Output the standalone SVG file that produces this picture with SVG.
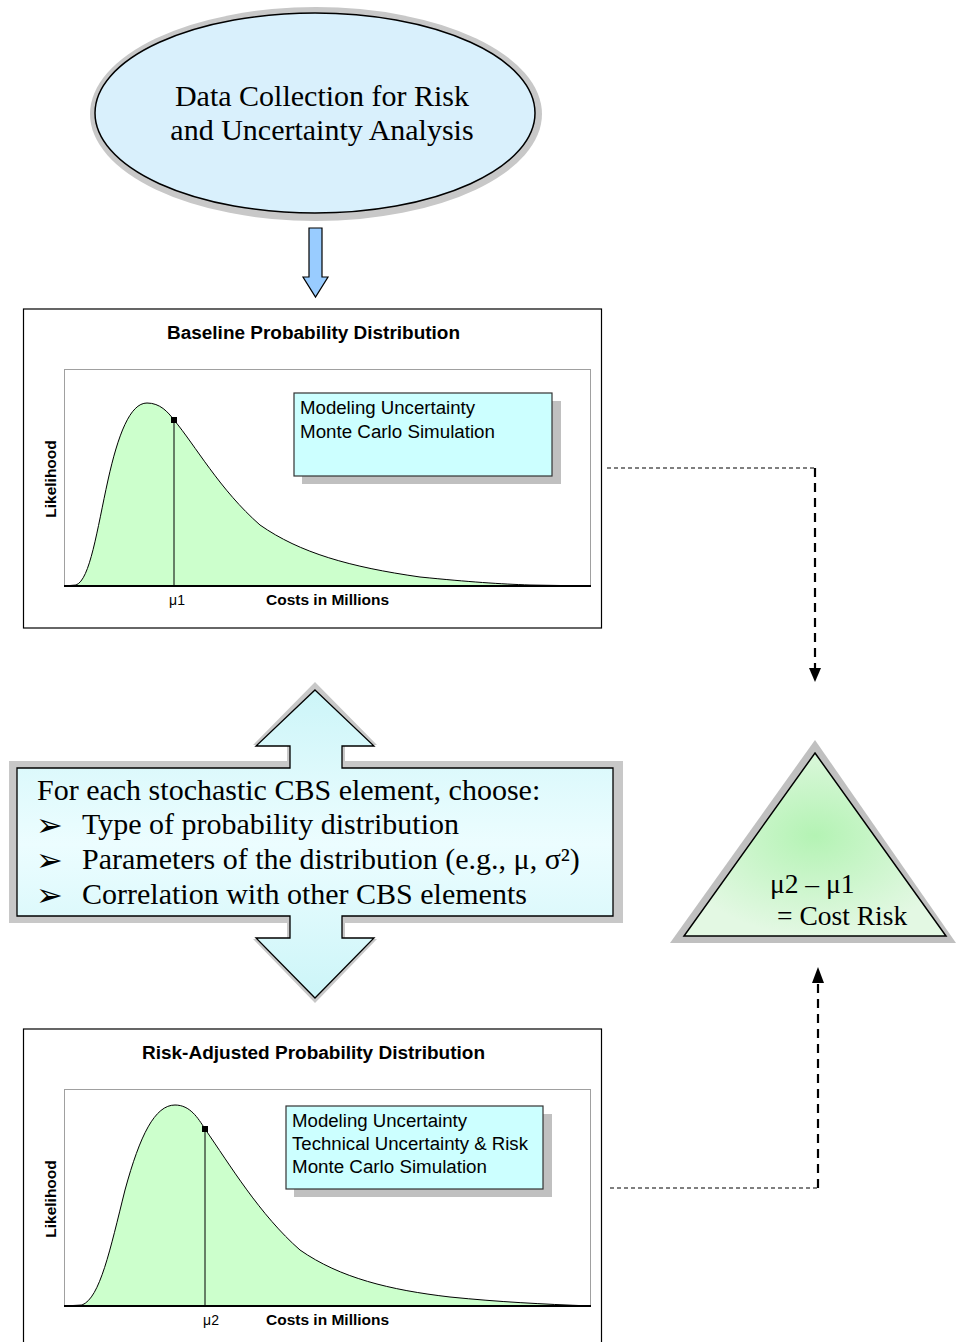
<svg xmlns="http://www.w3.org/2000/svg" width="956" height="1342" viewBox="0 0 956 1342">
<defs>
<style>
.serif{font-family:"Liberation Serif","Times New Roman",serif;fill:#000}
.sans{font-family:"Liberation Sans",Arial,sans-serif;fill:#000}
.title{font-size:18px;font-weight:bold}
.axis{font-size:15.5px;font-weight:bold}
.mu{font-size:14px}
.legend{font-size:18px}
.big{font-size:30px}
.bullet{font-family:"DejaVu Sans",sans-serif;font-size:32px;fill:#000}
.frame{fill:#fff;stroke:#000;stroke-width:1.2}
.plot{fill:#fff;stroke:#a0a0a0;stroke-width:1}
.curve{fill:#ccffcc;stroke:#000;stroke-width:1}
.legbox{fill:#ccffff;stroke:#333;stroke-width:1.2}
.shadow{fill:#c0c0c0}
.thin{fill:none;stroke:#555;stroke-width:1.3;stroke-dasharray:4 3}
.thick{fill:none;stroke:#000;stroke-width:2.2;stroke-dasharray:9 6}
</style>
<linearGradient id="cyanGrad" x1="0" y1="0" x2="0" y2="1">
<stop offset="0" stop-color="#ccf5f8"/>
<stop offset="0.5" stop-color="#ecfdff"/>
<stop offset="1" stop-color="#ccf5f8"/>
</linearGradient>
<radialGradient id="greenGrad" cx="0.5" cy="0.45" r="0.55">
<stop offset="0" stop-color="#b4f3b4"/>
<stop offset="1" stop-color="#e3f8e3"/>
</radialGradient>
</defs>

<g id="data-collection">
<ellipse cx="316" cy="114" rx="226" ry="107" fill="#c8c8c8"/>
<ellipse cx="315" cy="113" rx="220" ry="100" fill="#d9f0fc" stroke="#000" stroke-width="1.5"/>
<text class="serif big" x="322" y="106" text-anchor="middle">Data Collection for Risk</text>
<text class="serif big" x="322" y="140" text-anchor="middle">and Uncertainty Analysis</text>
</g>

<g id="down-arrow">
<path d="M309,228 L322,228 L322,277 L328,277 L315.5,297 L303,277 L309,277 Z" fill="#99ccff" stroke="#000" stroke-width="1.2"/>
</g>

<g id="baseline-chart">
<rect class="frame" x="23.5" y="309" width="578" height="319"/>
<text class="sans title" x="167" y="339" textLength="293" lengthAdjust="spacingAndGlyphs">Baseline Probability Distribution</text>
<rect class="plot" x="64.5" y="369.5" width="526" height="217"/>
<path class="curve" d="M64,586 L76,585 C90,580 97,530 108,480 C118,435 130,403 147,403 C160,403 168,412 174,420 C195,445 220,490 260,525 C300,553 350,567 420,577 C470,582 500,584 530,585 L591,586 Z"/>
<line x1="64" y1="586" x2="591" y2="586" stroke="#000" stroke-width="2"/>
<line x1="174" y1="420" x2="174" y2="586" stroke="#000" stroke-width="1"/>
<rect x="171" y="417" width="6" height="6" fill="#000"/>
<rect class="shadow" x="302" y="401" width="259" height="83"/>
<rect class="legbox" x="294" y="393" width="258" height="83"/>
<text class="sans legend" x="300" y="414" textLength="175" lengthAdjust="spacingAndGlyphs">Modeling Uncertainty</text>
<text class="sans legend" x="300" y="438" textLength="195" lengthAdjust="spacingAndGlyphs">Monte Carlo Simulation</text>
<text class="sans axis" transform="translate(56,479) rotate(-90)" text-anchor="middle">Likelihood</text>
<text class="sans mu" x="177" y="605" text-anchor="middle">μ1</text>
<text class="sans axis" x="266" y="605">Costs in Millions</text>
</g>

<g id="cbs-choices">
<path d="M315,682 L377,745 L345,745 L345,761 L623,761 L623,923 L345,923 L345,939 L377,939 L315,1003 L253,939 L287,939 L287,923 L9,923 L9,761 L287,761 L287,745 L253,745 Z" fill="#c8c8c8"/>
<path d="M315,690 L374,746 L342,746 L342,768 L613,768 L613,916 L342,916 L342,938 L374,938 L315,998 L256,938 L290,938 L290,916 L17,916 L17,768 L290,768 L290,746 L256,746 Z" fill="url(#cyanGrad)" stroke="#000" stroke-width="1.3"/>
<text class="serif big" x="37" y="800">For each stochastic CBS element, choose:</text>
<text class="bullet" x="36" y="836">➢</text>
<text class="serif big" x="82" y="834">Type of probability distribution</text>
<text class="bullet" x="36" y="871">➢</text>
<text class="serif big" x="82" y="869">Parameters of the distribution (e.g., μ, σ²)</text>
<text class="bullet" x="36" y="906">➢</text>
<text class="serif big" x="82" y="904">Correlation with other CBS elements</text>
</g>

<g id="cost-risk">
<path d="M815,740 L956,943 L670,943 Z" fill="#c0c0c0"/>
<path d="M815,753 L946,936 L684,936 Z" fill="url(#greenGrad)" stroke="#000" stroke-width="1.5"/>
<text class="serif" x="770" y="893" font-size="27.5">μ2 – μ1</text>
<text class="serif" x="777" y="925" font-size="27.5">= Cost Risk</text>
</g>

<g id="risk-adjusted-chart">
<rect class="frame" x="23.5" y="1029" width="578" height="330"/>
<text class="sans title" x="142" y="1059" textLength="343" lengthAdjust="spacingAndGlyphs">Risk-Adjusted Probability Distribution</text>
<rect class="plot" x="64.5" y="1089.5" width="526" height="217"/>
<path class="curve" d="M64,1306 L82,1305 C100,1298 110,1250 125,1190 C140,1135 155,1105 175,1105 C190,1105 198,1118 205,1129 C230,1165 260,1215 300,1250 C340,1278 390,1290 450,1297 C500,1302 540,1304 591,1306 Z"/>
<line x1="64" y1="1306" x2="591" y2="1306" stroke="#000" stroke-width="2"/>
<line x1="205" y1="1129" x2="205" y2="1306" stroke="#000" stroke-width="1"/>
<rect x="202" y="1126" width="6" height="6" fill="#000"/>
<rect class="shadow" x="294" y="1114" width="258" height="83"/>
<rect class="legbox" x="286" y="1106" width="257" height="83"/>
<text class="sans legend" x="292" y="1127" textLength="175" lengthAdjust="spacingAndGlyphs">Modeling Uncertainty</text>
<text class="sans legend" x="292" y="1150" textLength="236" lengthAdjust="spacingAndGlyphs">Technical Uncertainty &amp; Risk</text>
<text class="sans legend" x="292" y="1173" textLength="195" lengthAdjust="spacingAndGlyphs">Monte Carlo Simulation</text>
<text class="sans axis" transform="translate(56,1199) rotate(-90)" text-anchor="middle">Likelihood</text>
<text class="sans mu" x="211" y="1325" text-anchor="middle">μ2</text>
<text class="sans axis" x="266" y="1325">Costs in Millions</text>
</g>

<g id="connectors">
<path class="thin" d="M607,468 L815,468"/>
<path class="thick" d="M815,468 L815,668"/>
<path d="M809,668 L821,668 L815,682 Z" fill="#000"/>
<path class="thin" d="M610,1188 L818,1188"/>
<path class="thick" d="M818,1188 L818,983"/>
<path d="M812,983 L824,983 L818,967 Z" fill="#000"/>
</g>
</svg>
